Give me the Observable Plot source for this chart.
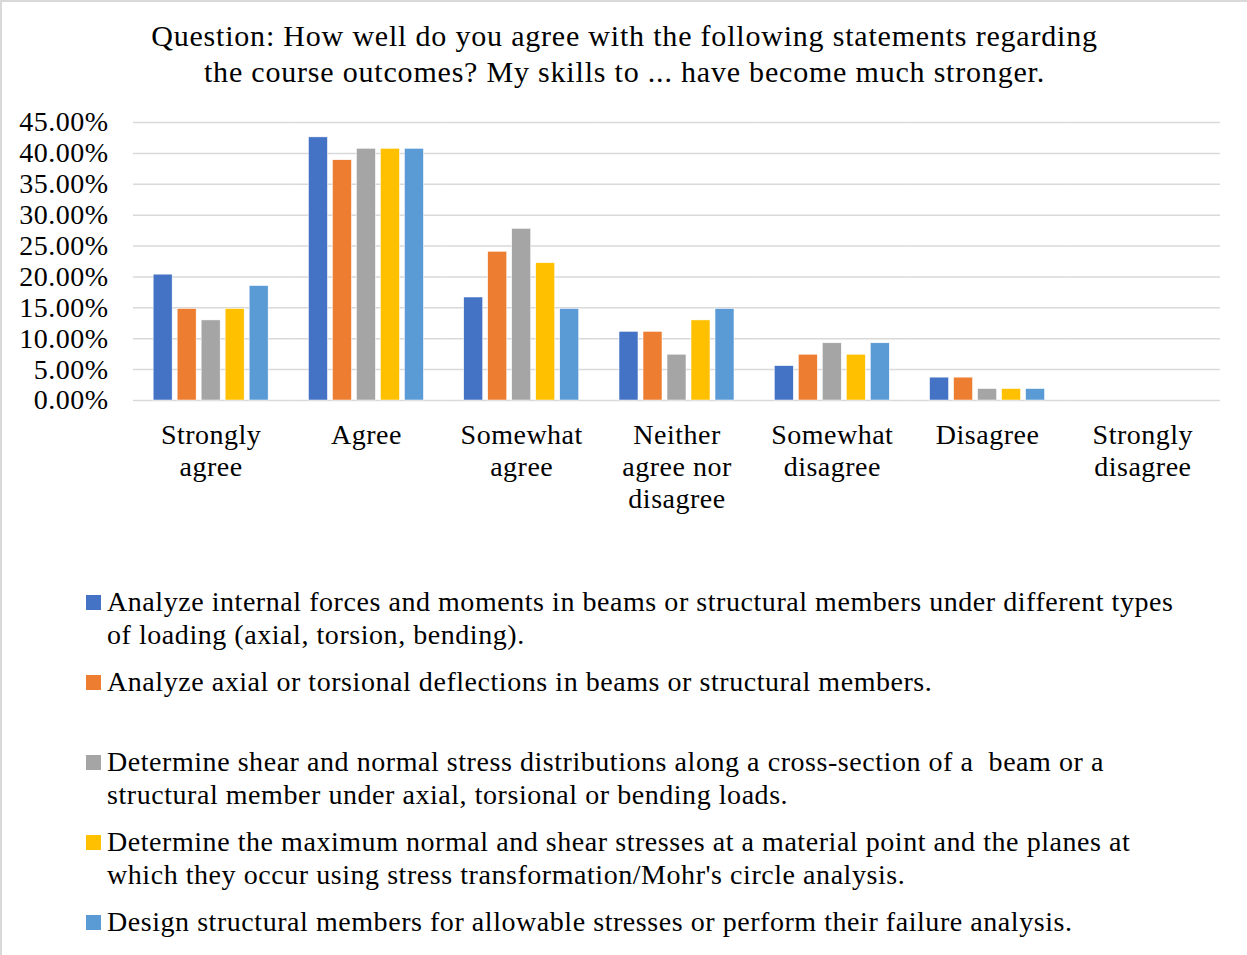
<!DOCTYPE html>
<html>
<head>
<meta charset="utf-8">
<script src="https://cdn.jsdelivr.net/npm/d3@7"></script>
<script src="https://cdn.jsdelivr.net/npm/@observablehq/plot@0.6"></script>
<style>
  html, body { margin: 0; padding: 0; background: #fff; }
  #wrap { position: relative; width: 1245px; height: 953px; border-left: 2px solid #d9d9d9; border-top: 2px solid #d9d9d9; overflow: hidden; font-family: "Liberation Serif", "Times New Roman", serif; color: #000; }
  #title { position: absolute; left: 0; top: 16px; width: 1245px; text-align: center; font-size: 30px; line-height: 36px; letter-spacing: 0.8px; }
  #chart { position: absolute; left: 0; top: 96px; }
  #legend { position: absolute; left: 84px; top: 583px; }
  .item { height: 80px; display: flex; align-items: flex-start; font-size: 28px; line-height: 33px; letter-spacing: 0.55px; }
  .sw { width: 15px; height: 15px; margin-top: 10px; margin-right: 6px; flex: none; }
  .lab { white-space: pre; }
</style>
</head>
<body>
<div id="wrap">
  <div id="title">Question: How well do you agree with the following statements regarding<br>the course outcomes? My skills to ... have become much stronger.</div>
  <div id="chart"></div>
  <div id="legend"></div>
</div>
<script>
const categories = ["Strongly agree", "Agree", "Somewhat agree", "Neither agree nor disagree", "Somewhat disagree", "Disagree", "Strongly disagree"];
const categoryLabels = ["Strongly\nagree", "Agree", "Somewhat\nagree", "Neither\nagree nor\ndisagree", "Somewhat\ndisagree", "Disagree", "Strongly\ndisagree"];
const seriesNames = [
  "Analyze internal forces and moments in beams or structural members under different types\nof loading (axial, torsion, bending).",
  "Analyze axial or torsional deflections in beams or structural members.",
  "Determine shear and normal stress distributions along a cross-section of a  beam or a\nstructural member under axial, torsional or bending loads.",
  "Determine the maximum normal and shear stresses at a material point and the planes at\nwhich they occur using stress transformation/Mohr's circle analysis.",
  "Design structural members for allowable stresses or perform their failure analysis."
];
const seriesColors = ["#4472C4", "#ED7D31", "#A5A5A5", "#FFC000", "#5B9BD5"];
// percent values per series, in category order
const s1 = [20.37, 42.59, 16.67, 11.11, 5.56, 3.70, 0];
const s2 = [14.81, 38.89, 24.07, 11.11, 7.41, 3.70, 0];
const s3 = [12.96, 40.74, 27.78, 7.41, 9.26, 1.85, 0];
const s4 = [14.81, 40.74, 22.22, 12.96, 7.41, 1.85, 0];
const s5 = [18.52, 40.74, 14.81, 14.81, 9.26, 1.85, 0];
const yTicks = [0, 5, 10, 15, 20, 25, 30, 35, 40, 45];

const seriesValues = [s1, s2, s3, s4, s5];
const data = [];
categories.forEach((c, ci) => {
  seriesValues.forEach((vals, si) => {
    data.push({category: c, series: si, value: vals[ci]});
  });
});

const labelOf = new Map(categories.map((c, i) => [c, categoryLabels[i]]));

const chart = Plot.plot({
  width: 1245,
  height: 422,
  marginTop: 24,
  marginBottom: 120,
  marginLeft: 131,
  marginRight: 27,
  style: {fontFamily: '"Liberation Serif", "Times New Roman", serif', fontSize: "28px", letterSpacing: "0.5px", color: "#000", background: "#fff", overflow: "visible"},
  fx: {domain: categories, padding: 0, round: false},
  x: {domain: [0, 1, 2, 3, 4], paddingInner: 0.21, paddingOuter: 0.84, round: false},
  y: {domain: [0, 45]},
  marks: [
    Plot.ruleY(yTicks, {stroke: "#d9d9d9", strokeWidth: 1.5, facetAnchor: null}),
    Plot.barY(data, {fx: "category", x: "series", y: "value", fill: d => seriesColors[d.series], stroke: "#fff", strokeWidth: 0.5}),
    Plot.axisY(yTicks, {tickSize: 0, tickPadding: 25, fontSize: 28, tickFormat: d => d.toFixed(2) + "%", label: null, anchor: "left"}),
    Plot.axisFx({tickSize: 0, tickPadding: 21, fontSize: 28, lineHeight: 1.14, tickFormat: c => labelOf.get(c), label: null, anchor: "bottom"}),
    Plot.axisX({ticks: [], label: null, tickSize: 0})
  ]
});
document.getElementById("chart").appendChild(chart);

const legend = document.getElementById("legend");
seriesNames.forEach((name, i) => {
  const it = document.createElement("div");
  it.className = "item";
  const sw = document.createElement("div");
  sw.className = "sw";
  sw.style.background = seriesColors[i];
  const lab = document.createElement("div");
  lab.className = "lab";
  lab.textContent = name;
  it.appendChild(sw);
  it.appendChild(lab);
  legend.appendChild(it);
});
</script>
</body>
</html>
